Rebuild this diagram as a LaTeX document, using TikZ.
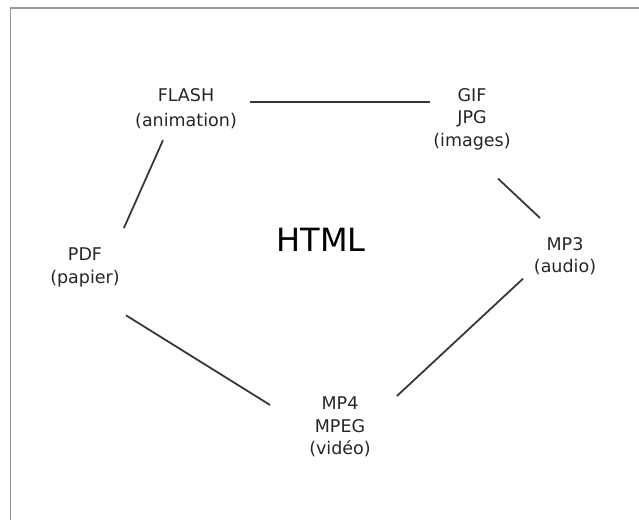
\documentclass[tikz,border=0pt]{standalone}
\usepackage{fontspec}
\setmainfont{DejaVu Sans}
\usetikzlibrary{calc}

\begin{document}
\begin{tikzpicture}[x=1pt,y=-1pt,
  fmt/.style={inner sep=0, anchor=north, align=center, text=black!85,
    font=\fontsize{17.5}{22.5}\selectfont},
  link/.style={draw=black!78, line width=1.8pt}]
  \def\pw{639}
  \def\ph{520}
  \useasboundingbox (0,0) rectangle (\pw,\ph);
  \draw[line width=1.5pt, color={rgb,255:red,150;green,150;blue,150}] (10.5,\ph) -- (10.5,8) -- (\pw,8);

  \node[fmt] (flash) at (186,88) {FLASH\\[3pt](animation)};
  \node[fmt] (gif) at (472,88) {GIF\\JPG\\(images)};
  \node[fmt] (pdf) at (85,248) {PDF\\(papier)};
  \node[fmt] (mp3) at (565,237) {MP3\\(audio)};
  \node[fmt] (mp4) at (340,397) {MP4\\MPEG\\(vidéo)};
  \node[inner sep=0, font=\fontsize{32}{38}\selectfont] (html) at (321,240) {HTML};

  \draw[link] ([shift={(13pt,-14pt)}]flash.north east) -- ([shift={(-3.5pt,-14pt)}]gif.north west);
  \draw[link] ([shift={(-23pt,-11pt)}]flash.south) -- ([shift={(4pt,20pt)}]pdf.north east);
  \draw[link] ([shift={(26pt,-28.5pt)}]gif.south) -- ([shift={(-25pt,19pt)}]mp3.north);
  \draw[link] ([shift={(-42pt,-3.5pt)}]mp3.south) -- ([shift={(26pt,1pt)}]mp4.north east);
  \draw[link] ([shift={(41pt,-28pt)}]pdf.south) -- ([shift={(-39pt,-8pt)}]mp4.north west);
\end{tikzpicture}
\end{document}
